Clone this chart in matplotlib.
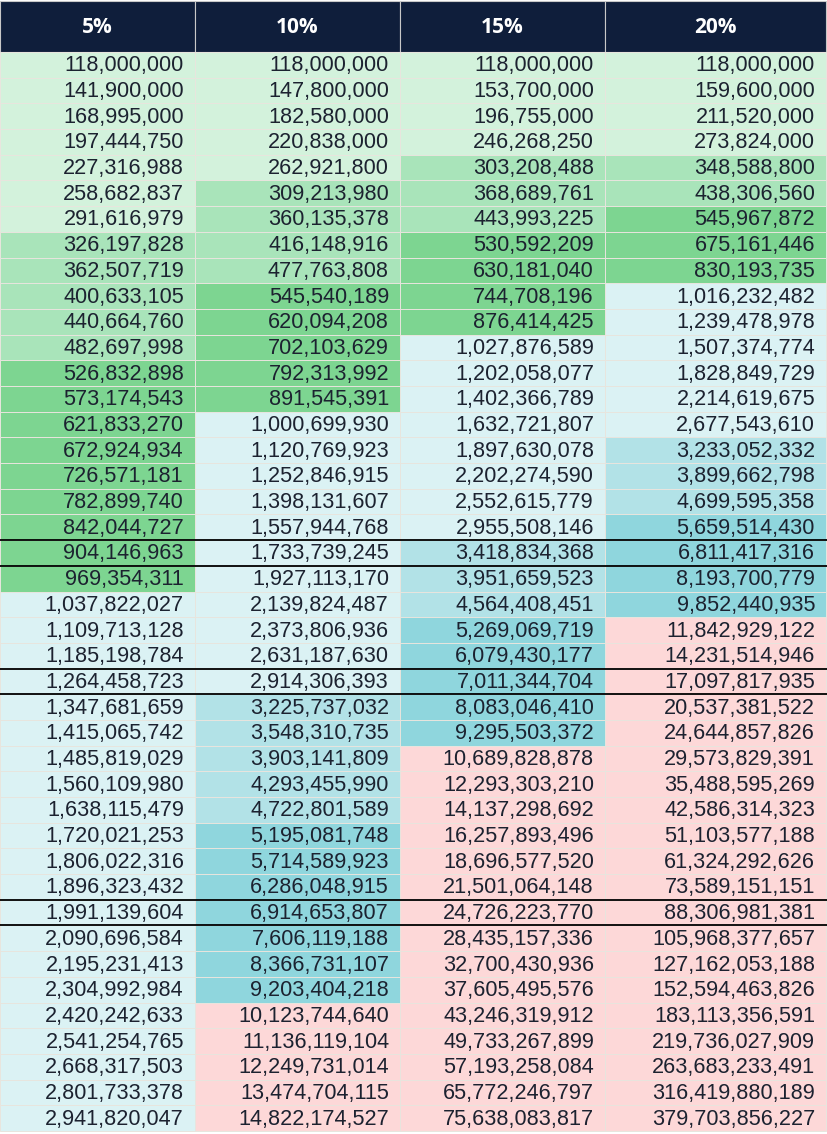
import numpy as np
import matplotlib
matplotlib.use("Agg")
import matplotlib.pyplot as plt
from matplotlib.patches import Rectangle

# compounding table, one list per rate column
headers = ["5%", "10%", "15%", "20%"]

col_5 = [
    118000000, 141900000, 168995000, 197444750, 227316988, 258682837,
    291616979, 326197828, 362507719, 400633105, 440664760, 482697998,
    526832898, 573174543, 621833270, 672924934, 726571181, 782899740,
    842044727, 904146963, 969354311, 1037822027, 1109713128, 1185198784,
    1264458723, 1347681659, 1415065742, 1485819029, 1560109980, 1638115479,
    1720021253, 1806022316, 1896323432, 1991139604, 2090696584, 2195231413,
    2304992984, 2420242633, 2541254765, 2668317503, 2801733378, 2941820047,
]
col_10 = [
    118000000, 147800000, 182580000, 220838000, 262921800, 309213980,
    360135378, 416148916, 477763808, 545540189, 620094208, 702103629,
    792313992, 891545391, 1000699930, 1120769923, 1252846915, 1398131607,
    1557944768, 1733739245, 1927113170, 2139824487, 2373806936, 2631187630,
    2914306393, 3225737032, 3548310735, 3903141809, 4293455990, 4722801589,
    5195081748, 5714589923, 6286048915, 6914653807, 7606119188, 8366731107,
    9203404218, 10123744640, 11136119104, 12249731014, 13474704115, 14822174527,
]
col_15 = [
    118000000, 153700000, 196755000, 246268250, 303208488, 368689761,
    443993225, 530592209, 630181040, 744708196, 876414425, 1027876589,
    1202058077, 1402366789, 1632721807, 1897630078, 2202274590, 2552615779,
    2955508146, 3418834368, 3951659523, 4564408451, 5269069719, 6079430177,
    7011344704, 8083046410, 9295503372, 10689828878, 12293303210, 14137298692,
    16257893496, 18696577520, 21501064148, 24726223770, 28435157336, 32700430936,
    37605495576, 43246319912, 49733267899, 57193258084, 65772246797, 75638083817,
]
col_20 = [
    118000000, 159600000, 211520000, 273824000, 348588800, 438306560,
    545967872, 675161446, 830193735, 1016232482, 1239478978, 1507374774,
    1828849729, 2214619675, 2677543610, 3233052332, 3899662798, 4699595358,
    5659514430, 6811417316, 8193700779, 9852440935, 11842929122, 14231514946,
    17097817935, 20537381522, 24644857826, 29573829391, 35488595269, 42586314323,
    51103577188, 61324292626, 73589151151, 88306981381, 105968377657, 127162053188,
    152594463826, 183113356591, 219736027909, 263683233491, 316419880189, 379703856227,
]
columns = [col_5, col_10, col_15, col_20]

# rows framed by black rules (1-based)
highlight_rows = [20, 25, 34]

# colour bands
band_edges = [3e8, 5e8, 1e9, 3e9, 5e9, 1e10]
band_colors = ["#d3f2dc", "#a9e4ba", "#7dd591", "#dbf2f4",
               "#b2e2e7", "#8fd6dd", "#fdd8d8"]

W, H = 827, 1134
fig = plt.figure(figsize=(W / 100, H / 100), dpi=100)
ax = fig.add_axes([0, 0, 1, 1])
ax.set_xlim(0, W)
ax.set_ylim(H, 0)
ax.axis("off")

col_edges = [0, 195, 400, 605, 826]
header_top, header_bot = 1, 52
table_bot = 1131
n_rows = len(col_5)
row_h = (table_bot - header_bot) / n_rows

grid_color = "#e8e5de"
navy = "#0f1e3b"

for j, vals in enumerate(columns):
    x0, x1 = col_edges[j], col_edges[j + 1]
    ax.add_patch(Rectangle((x0, header_top), x1 - x0, header_bot - header_top,
                           facecolor=navy, edgecolor="#c8c8c8", lw=0.8))
    ax.text((x0 + x1) / 2, (header_top + header_bot) / 2 + 1, headers[j],
            ha="center", va="center", color="white", fontsize=15,
            fontweight="bold", family="Open Sans")
    for i, v in enumerate(vals):
        y0 = header_bot + i * row_h
        c = band_colors[int(np.searchsorted(band_edges, v, side="right"))]
        ax.add_patch(Rectangle((x0, y0), x1 - x0, row_h, facecolor=c,
                               edgecolor=grid_color, lw=0.7))
        ax.text(x1 - 11, y0 + row_h / 2 + 1, f"{v:,}", ha="right", va="center",
                fontsize=15.6, color="#1c2230", family="Liberation Sans")

for r in highlight_rows:
    for edge in (r - 1, r):
        y = header_bot + edge * row_h
        ax.plot([0, W], [y, y], color="black", lw=1.3, solid_capstyle="butt")

fig.savefig("out.png", dpi=100, facecolor="white")
